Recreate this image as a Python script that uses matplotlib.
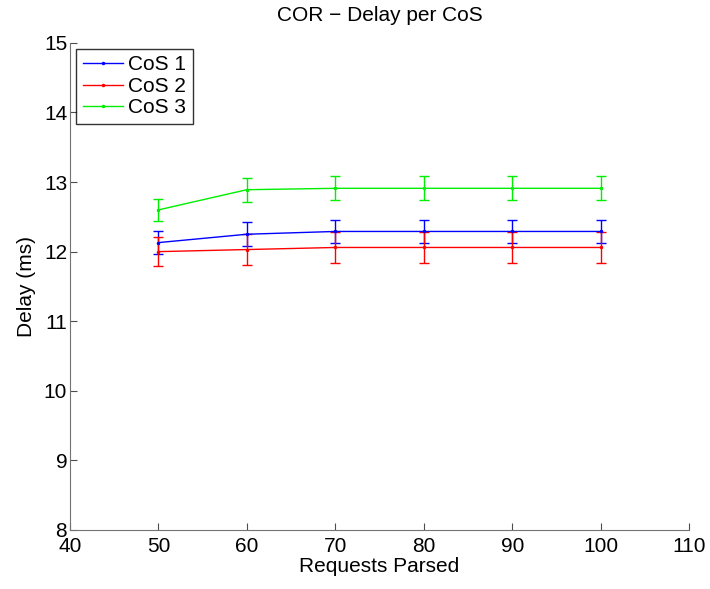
import matplotlib
matplotlib.use("Agg")
import matplotlib.pyplot as plt
from matplotlib.lines import Line2D

plt.rcParams["font.family"] = ["Liberation Sans", "DejaVu Sans"]

requests = [50, 60, 70, 80, 90, 100]

cos1_mean = [12.13, 12.25, 12.29, 12.29, 12.29, 12.29]
cos1_err = [0.16, 0.17, 0.16, 0.16, 0.16, 0.16]
cos2_mean = [12.00, 12.03, 12.06, 12.06, 12.06, 12.06]
cos2_err = [0.21, 0.22, 0.22, 0.22, 0.22, 0.22]
cos3_mean = [12.60, 12.89, 12.91, 12.91, 12.91, 12.91]
cos3_err = [0.155, 0.17, 0.17, 0.17, 0.17, 0.17]

series = [
    ("CoS 1", cos1_mean, cos1_err, "#0000ff"),
    ("CoS 2", cos2_mean, cos2_err, "#ff0000"),
    ("CoS 3", cos3_mean, cos3_err, "#00ee00"),
]

fig = plt.figure(figsize=(7.1, 5.89), dpi=100)
ax = fig.add_axes([0.0986, 0.1002, 0.872, 0.827])

handles = []
for label, mean, err, color in series:
    ax.errorbar(requests, mean, yerr=err, color=color, marker=".",
                markersize=3, linewidth=1.0, elinewidth=1.0, capsize=3.5,
                capthick=1.0)
    handles.append(Line2D([], [], color=color, marker=".", markersize=3,
                          linewidth=1.0, label=label))

ax.set_xlim(40, 110)
ax.set_ylim(8, 15)
ax.set_xticks(range(40, 111, 10))
ax.set_yticks(range(8, 16))
ax.spines["top"].set_visible(False)
ax.spines["right"].set_visible(False)
for s in ("left", "bottom"):
    ax.spines[s].set_color("0.45")
ax.tick_params(direction="in", labelsize=15, length=5, pad=2,
               color="0.3")
ax.tick_params(axis="x", pad=5)
ax.set_xlabel("Requests Parsed", fontsize=15, labelpad=1)
ax.set_ylabel("Delay (ms)", fontsize=15, labelpad=6)
ax.set_title("COR \u2212 Delay per CoS", fontsize=15, pad=16)

leg = ax.legend(handles=handles, loc="upper left", fontsize=15,
                frameon=True, fancybox=False, edgecolor="black",
                borderaxespad=0.3, handlelength=1.95, handletextpad=0.25,
                labelspacing=0.12, borderpad=0.3)
leg.get_frame().set_linewidth(1.0)

fig.savefig("out.png", dpi=100)
